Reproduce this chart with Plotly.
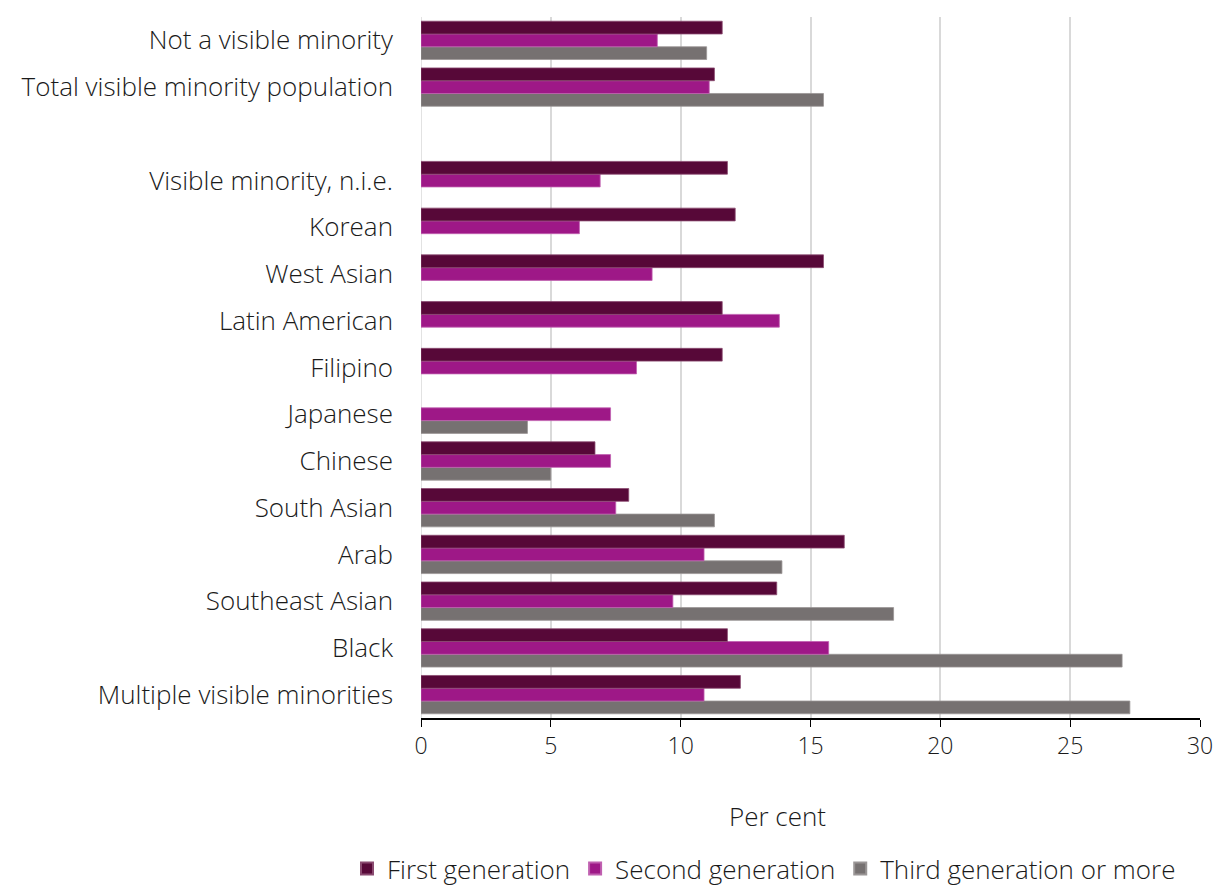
import plotly.graph_objects as go

# Categories listed bottom-to-top; the blank entry leaves a gap between groups
categories = [
    "Multiple visible minorities",
    "Black",
    "Southeast Asian",
    "Arab",
    "South Asian",
    "Chinese",
    "Japanese",
    "Filipino",
    "Latin American",
    "West Asian",
    "Korean",
    "Visible minority, n.i.e.",
    " ",
    "Total visible minority population",
    "Not a visible minority",
]

first_gen = [12.3, 11.8, 13.7, 16.3, 8.0, 6.7, None, 11.6, 11.6, 15.5, 12.1, 11.8, None, 11.3, 11.6]
second_gen = [10.9, 15.7, 9.7, 10.9, 7.5, 7.3, 7.3, 8.3, 13.8, 8.9, 6.1, 6.9, None, 11.1, 9.1]
third_gen = [27.3, 27.0, 18.2, 13.9, 11.3, 5.0, 4.1, None, None, None, None, None, None, 15.5, 11.0]

x_ticks = [0, 5, 10, 15, 20, 25, 30]

series = [
    ("Third generation or more", third_gen, "#767171", "#9a9696"),
    ("Second generation", second_gen, "#9e1887", "#c060b0"),
    ("First generation", first_gen, "#570838", "#8a4a70"),
]

FONT = "Open Sans"
TEXT = "#1a1a1a"
SIZE = 26

fig = go.Figure()
for name, vals, color, edge in series:
    fig.add_trace(go.Bar(
        y=categories,
        x=vals,
        name=name,
        orientation="h",
        marker=dict(color=color, line=dict(color=edge, width=0.8)),
    ))

fig.update_layout(
    width=1219,
    height=886,
    barmode="group",
    bargap=0.18,
    bargroupgap=0,
    plot_bgcolor="white",
    paper_bgcolor="white",
    margin=dict(l=421, r=19, t=17, b=168, autoexpand=False),
    font=dict(family=FONT, size=SIZE, color=TEXT, weight=300),
    showlegend=True,
    legend=dict(
        orientation="h",
        traceorder="reversed",
        x=-0.095,
        xanchor="left",
        y=-0.215,
        yanchor="middle",
        font=dict(family=FONT, size=SIZE, color=TEXT, weight=300),
        itemsizing="constant",
    ),
    xaxis=dict(
        range=[0, 30],
        tickvals=x_ticks,
        showgrid=True,
        gridcolor="#d9d9d9",
        gridwidth=1.5,
        zeroline=False,
        showline=True,
        linecolor="black",
        linewidth=1.5,
        ticks="outside",
        ticklen=7,
        tickcolor="black",
        tickfont=dict(family=FONT, size=23, color=TEXT, weight=300),
    ),
    yaxis=dict(
        type="category",
        categoryorder="array",
        categoryarray=categories,
        showgrid=False,
        showline=False,
        ticks="",
        ticklabelstandoff=27,
        tickfont=dict(family=FONT, size=SIZE, color=TEXT, weight=300),
    ),
    annotations=[
        dict(
            text="Per cent",
            xref="paper",
            yref="paper",
            x=0.457,
            y=-0.14,
            xanchor="center",
            yanchor="middle",
            showarrow=False,
            font=dict(family=FONT, size=SIZE, color=TEXT, weight=300),
        )
    ],
)

# vertical grid line at zero drawn as part of the grid
fig.add_shape(type="line", xref="x", yref="paper", x0=0, x1=0, y0=0, y1=1,
              line=dict(color="#d9d9d9", width=1.5), layer="below")

fig.write_html("out.html")
